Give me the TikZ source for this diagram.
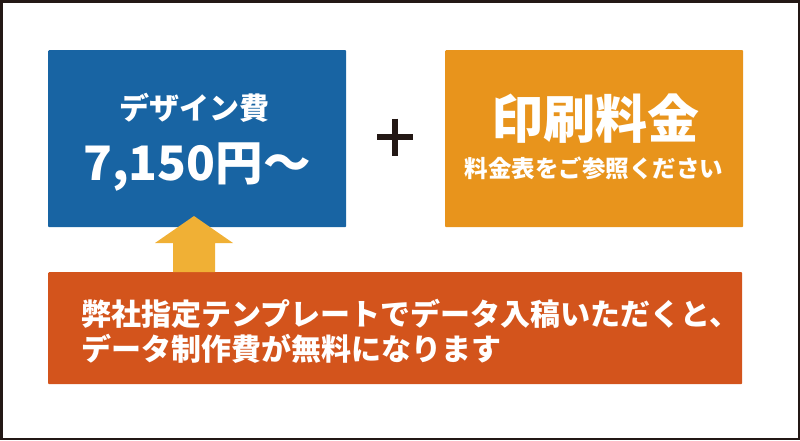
\documentclass[tikz,border=0pt]{standalone}
\usepackage{fontspec}
\newfontfamily\jpfont{Noto Sans CJK JP}
\usepackage{xcolor}
\definecolor{designblue}{RGB}{24,100,163}
\definecolor{printorange}{RGB}{232,148,28}
\definecolor{noteorange}{RGB}{211,84,28}
\definecolor{arrowyellow}{RGB}{240,176,53}
\definecolor{framedark}{RGB}{35,24,21}

\begin{document}
\begin{tikzpicture}[x=1pt, y=-1pt,
    box/.style={anchor=north west, inner sep=0pt, rounded corners=1pt},
    txt/.style={anchor=base, inner sep=0pt, text=white, font=\jpfont\bfseries}]
    \useasboundingbox (0,0) rectangle (800,440);

    % Rahmen
    \draw[framedark, line width=2.5pt] (1.25,1.25) rectangle (798.75,438.75);

    % Kaesten
    \node[box, fill=designblue, minimum width=298pt, minimum height=177pt] (design) at (48,50) {};
    \node[box, fill=printorange, minimum width=298pt, minimum height=177pt] (print) at (445,50) {};
    \node[box, fill=noteorange, minimum width=694pt, minimum height=112pt] (note) at (48,272) {};

    % Texte
    \node[txt, font=\jpfont\bfseries\fontsize{30}{30}\selectfont] (designtitle) at (194,119) {デザイン費};
    \node[txt, font=\jpfont\bfseries\fontsize{47.5}{47.5}\selectfont] (designprice) at (197,180) {7,150円〜};
    \node[txt, font=\jpfont\bfseries\fontsize{52}{52}\selectfont] (printtitle) at (595,138) {印刷料金};
    \node[txt, font=\jpfont\bfseries\fontsize{23.5}{23.5}\selectfont] (printnote) at (594,177) {料金表をご参照ください};
    \node[txt, anchor=base west, font=\jpfont\bfseries\fontsize{30}{30}\selectfont] (noteone) at (81,325) {弊社指定テンプレートでデータ入稿いただくと、};
    \node[txt, anchor=base west, font=\jpfont\bfseries\fontsize{30}{30}\selectfont] (notetwo) at (81,360) {データ制作費が無料になります};

    % Plus
    \coordinate (plus) at (395,137);
    \draw[framedark, line width=6.5pt] (plus) +(-18,0) -- +(18,0);
    \draw[framedark, line width=6.5pt] (plus) +(0,-18.5) -- +(0,18.5);

    % Pfeil
    \coordinate (foot) at (194,272);
    \fill[arrowyellow] (foot) +(-21,0) -- +(-21,-29) -- +(-39,-29) -- +(0,-56)
        -- +(39,-29) -- +(21,-29) -- +(21,0) -- cycle;
\end{tikzpicture}
\end{document}
